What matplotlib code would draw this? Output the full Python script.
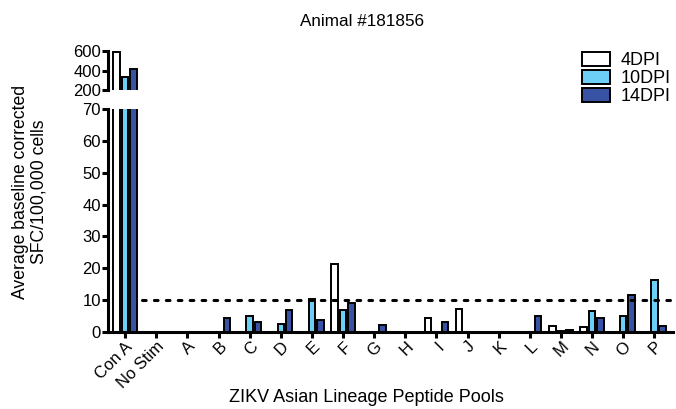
import numpy as np
import matplotlib
matplotlib.use("Agg")
import matplotlib.pyplot as plt
from matplotlib.patches import Patch

plt.rcParams['font.family'] = ['Liberation Sans', 'DejaVu Sans']

# data
pools = ['Con A', 'No Stim', 'A', 'B', 'C', 'D', 'E', 'F', 'G', 'H',
         'I', 'J', 'K', 'L', 'M', 'N', 'O', 'P']
dpi4 = [590, 0, 0, 0, 0, 0, 0, 21.3, 0, 0, 4.4, 7.3, 0, 0, 2.0, 1.5, 0, 0]
dpi10 = [330, 0, 0, 0, 4.9, 2.5, 10.4, 6.9, 0, 0, 0, 0, 0, 0, 0.3, 6.5, 4.9, 16.4]
dpi14 = [420, 0, 0, 4.5, 3.0, 6.9, 3.9, 9.0, 2.1, 0, 3.0, 0, 0, 4.9, 0.5, 4.4, 11.5, 2.0]
series = [('4DPI', dpi4, 'white'), ('10DPI', dpi10, '#6dcff6'), ('14DPI', dpi14, '#3953a4')]
cutoff = 10

fig = plt.figure(figsize=(6.76, 4.09), dpi=100)
ax_lo = fig.add_axes([108/676, 77/409, 565/676, 223/409])
ax_hi = fig.add_axes([108/676, 319/409, 565/676, 39/409])

x = np.arange(len(pools))
off = 0.27
w = 0.21
for ax in (ax_lo, ax_hi):
    for i, (name, vals, col) in enumerate(series):
        ax.bar(x + (i - 1) * off, vals, width=w, color=col, edgecolor='black',
               linewidth=1.4, label=name)
    ax.set_xlim(-0.55, 17.6)
    for s in ('top', 'right'):
        ax.spines[s].set_visible(False)
    ax.spines['left'].set_linewidth(2.2)
    ax.spines['bottom'].set_linewidth(2.2)
    ax.tick_params(width=2.2, length=4, labelsize=12, pad=1)

ax_lo.set_ylim(0, 70)
ax_lo.set_yticks(range(0, 71, 10))
ax_lo.set_xticks(x)
ax_lo.set_xticklabels(pools, rotation=45, ha='right', rotation_mode='anchor')
ax_lo.hlines(cutoff, 0.55, 17.6, colors='black', linewidth=2.2,
             linestyles=(0, (1.2, 2.7)), capstyle='round')

ax_hi.set_ylim(200, 600)
ax_hi.set_yticks([200, 400, 600])
ax_hi.spines['bottom'].set_visible(False)
ax_hi.set_xticks([])

fig.text(362/676, 1 - 21/409, 'Animal #181856', ha='center', va='center', fontsize=12.3)
fig.text(366/676, 1 - 398/409, 'ZIKV Asian Lineage Peptide Pools', ha='center',
         va='center', fontsize=13)
fig.text(30/676, 1 - 192/409, 'Average baseline corrected\nSFC/100,000 cells',
         ha='center', va='center', rotation=90, fontsize=12.7, linespacing=1.1)

handles = [Patch(facecolor=c, edgecolor='black', linewidth=1.4, label=n) for n, v, c in series]
fig.legend(handles=handles, loc='upper left', bbox_to_anchor=(582/676, 1 - 52/409),
           frameon=False, fontsize=13, handlelength=1.55, handleheight=0.8,
           labelspacing=0.05, handletextpad=0.6, borderpad=0, borderaxespad=0)

fig.savefig('out.png', dpi=100)
